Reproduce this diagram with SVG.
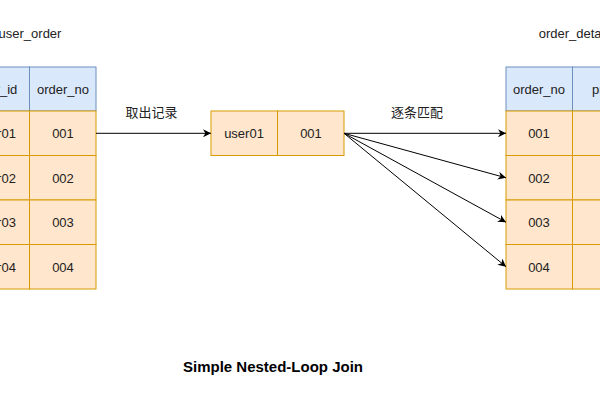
<svg xmlns="http://www.w3.org/2000/svg" width="600" height="400" viewBox="0 0 600 400">
<style>
.h{fill:#dae8fc;stroke:#6c8ebf;stroke-width:1}
.r{fill:#ffe6cc;stroke:#d79b00;stroke-width:1}
text{font-family:"Liberation Sans",Arial,"Noto Sans CJK SC",sans-serif;font-size:13px;fill:#222;text-anchor:middle}
.cn{font-family:"Noto Sans CJK SC","Liberation Sans",sans-serif}
.t{font-weight:bold;font-size:15px;fill:#000}
.e{stroke:#000;stroke-width:1;fill:none}
</style>
<defs>
<marker id="a" viewBox="0 0 10 10" refX="10" refY="5" markerWidth="8" markerHeight="8" markerUnits="userSpaceOnUse" orient="auto">
<path d="M0,0 L10,5 L0,10 L3,5 Z" fill="#000"/>
</marker>
</defs>
<rect width="600" height="400" fill="#fff"/>
<g id="user_order">
<text x="30" y="38">user_order</text>
<rect class="h" x="-37" y="67" width="66.5" height="44"/>
<rect class="h" x="29.5" y="67" width="66.5" height="44"/>
<text x="-4" y="93.5">user_id</text>
<text x="63" y="93.5">order_no</text>
<rect class="r" x="-37" y="111" width="66.5" height="44.5"/>
<rect class="r" x="29.5" y="111" width="66.5" height="44.5"/>
<rect class="r" x="-37" y="155.5" width="66.5" height="44.5"/>
<rect class="r" x="29.5" y="155.5" width="66.5" height="44.5"/>
<rect class="r" x="-37" y="200" width="66.5" height="44.5"/>
<rect class="r" x="29.5" y="200" width="66.5" height="44.5"/>
<rect class="r" x="-37" y="244.5" width="66.5" height="44.5"/>
<rect class="r" x="29.5" y="244.5" width="66.5" height="44.5"/>
<text x="-4" y="138">user01</text><text x="63" y="138">001</text>
<text x="-4" y="182.5">user02</text><text x="63" y="182.5">002</text>
<text x="-4" y="227">user03</text><text x="63" y="227">003</text>
<text x="-4" y="271.5">user04</text><text x="63" y="271.5">004</text>
</g>
<g id="record">
<rect class="r" x="211" y="111" width="66.5" height="44.5"/>
<rect class="r" x="277.5" y="111" width="66.5" height="44.5"/>
<text x="244" y="138">user01</text>
<text x="311" y="138">001</text>
</g>
<g id="order_detail">
<text x="573" y="38">order_detail</text>
<rect class="h" x="506" y="67" width="66.5" height="44"/>
<rect class="h" x="572.5" y="67" width="66.5" height="44"/>
<text x="539" y="93.5">order_no</text>
<text x="606" y="93.5">price</text>
<rect class="r" x="506" y="111" width="66.5" height="44.5"/>
<rect class="r" x="572.5" y="111" width="66.5" height="44.5"/>
<rect class="r" x="506" y="155.5" width="66.5" height="44.5"/>
<rect class="r" x="572.5" y="155.5" width="66.5" height="44.5"/>
<rect class="r" x="506" y="200" width="66.5" height="44.5"/>
<rect class="r" x="572.5" y="200" width="66.5" height="44.5"/>
<rect class="r" x="506" y="244.5" width="66.5" height="44.5"/>
<rect class="r" x="572.5" y="244.5" width="66.5" height="44.5"/>
<text x="539" y="138">001</text>
<text x="539" y="182.5">002</text>
<text x="539" y="227">003</text>
<text x="539" y="271.5">004</text>
</g>
<g id="connectors">
<line class="e" x1="96" y1="133.3" x2="211" y2="133.3" marker-end="url(#a)"/>
<line class="e" x1="344" y1="133.3" x2="506" y2="133.3" marker-end="url(#a)"/>
<line class="e" x1="344" y1="133.3" x2="506" y2="177.8" marker-end="url(#a)"/>
<line class="e" x1="344" y1="133.3" x2="506" y2="222.2" marker-end="url(#a)"/>
<line class="e" x1="344" y1="133.3" x2="506" y2="266.7" marker-end="url(#a)"/>
<text class="cn" x="151.5" y="117">取出记录</text>
<text class="cn" x="417" y="117">逐条匹配</text>
</g>
<text class="t" x="273" y="372">Simple Nested-Loop Join</text>
</svg>
